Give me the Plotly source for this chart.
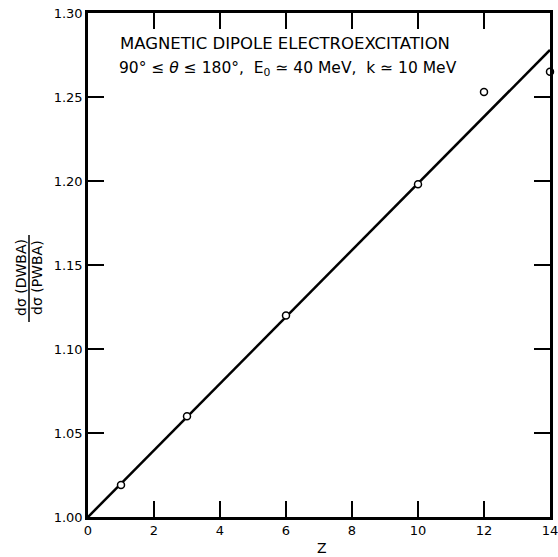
import plotly.graph_objects as go

z_points = [1, 3, 6, 10, 12, 14]
ratio_points = [1.019, 1.060, 1.120, 1.198, 1.253, 1.265]
z_line = [0, 14]
ratio_line = [1.000, 1.278]
x_ticks = [0, 2, 4, 6, 8, 10, 12, 14]
y_ticks = [1.00, 1.05, 1.10, 1.15, 1.20, 1.25, 1.30]
y_tick_labels = ["1.00", "1.05", "1.10", "1.15", "1.20", "1.25", "1.30"]

FONT = "DejaVu Sans"
W, H = 558, 557
L, R, T, B = 88, 8, 13, 40
pw, ph = W - L - R, H - T - B

def px(xp):
    return (xp - L) / pw

def py(yp):
    return (H - B - yp) / ph

fig = go.Figure()
fig.add_trace(go.Scatter(x=z_line, y=ratio_line, mode="lines",
                         line=dict(color="black", width=2.5), cliponaxis=False,
                         hoverinfo="skip", showlegend=False))
fig.add_trace(go.Scatter(x=z_points, y=ratio_points, mode="markers",
                         marker=dict(symbol="circle", size=7, color="white",
                                     line=dict(color="black", width=1.5)),
                         cliponaxis=False, showlegend=False))

axis_common = dict(showgrid=False, zeroline=False, showline=True, linecolor="black",
                   linewidth=2.5, mirror="ticks", ticks="inside", ticklen=16,
                   tickwidth=1.5, tickcolor="black", ticklabeloverflow="allow",
                   tickfont=dict(family=FONT, size=13, color="black"))

fig.update_layout(
    width=W, height=H,
    margin=dict(l=L, r=R, t=T, b=B),
    paper_bgcolor="white", plot_bgcolor="white",
    xaxis=dict(range=[0, 14], tickvals=x_ticks, ticktext=[str(v) for v in x_ticks],
               automargin=False, **axis_common),
    yaxis=dict(range=[1.0, 1.3], tickvals=y_ticks, ticktext=y_tick_labels,
               automargin=False, **axis_common),
    font=dict(family=FONT, color="black"),
)

fig.add_annotation(text="MAGNETIC DIPOLE ELECTROEXCITATION", xref="paper", yref="paper",
                   x=px(285), y=py(43), xanchor="center", yanchor="middle", showarrow=False,
                   font=dict(family=FONT, size=16.5, color="black"))
fig.add_annotation(text="90° ≤ <i>θ</i> ≤ 180°,  E<sub>0</sub> ≃ 40 MeV,  k ≃ 10 MeV",
                   xref="paper", yref="paper", x=px(288), y=py(69), xanchor="center",
                   yanchor="middle", showarrow=False,
                   font=dict(family=FONT, size=15.5, color="black"))
fig.add_annotation(text="Z", xref="paper", yref="paper", x=px(322), y=py(548),
                   xanchor="center", yanchor="middle",
                   showarrow=False, font=dict(family=FONT, size=14, color="black"))
fig.add_annotation(text="dσ (DWBA)", xref="paper", yref="paper", x=px(21), y=py(278),
                   xanchor="center", yanchor="middle",
                   textangle=-90, showarrow=False, font=dict(family=FONT, size=14, color="black"))
fig.add_annotation(text="dσ (PWBA)", xref="paper", yref="paper", x=px(37), y=py(278),
                   xanchor="center", yanchor="middle",
                   textangle=-90, showarrow=False, font=dict(family=FONT, size=14, color="black"))
fig.add_shape(type="line", xref="paper", yref="paper", x0=px(29), x1=px(29),
              y0=py(235), y1=py(322), line=dict(color="black", width=1.5))

fig.write_html("out.html", config={"displayModeBar": False},
               post_script="document.body.style.margin='0';document.body.style.overflow='hidden';")
